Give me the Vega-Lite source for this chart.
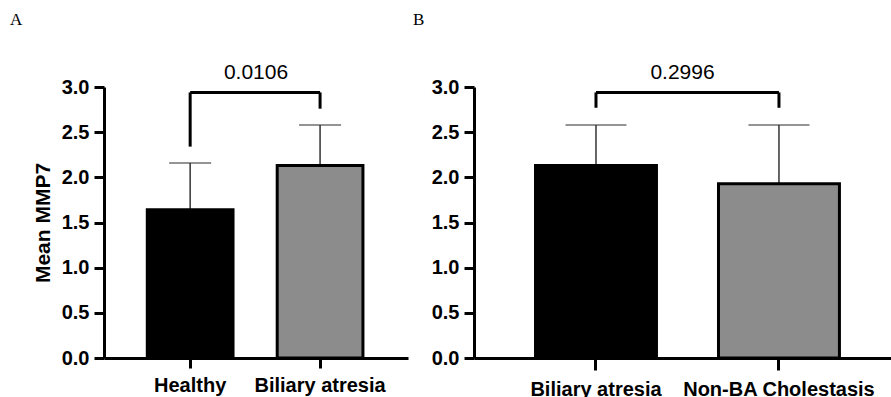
{
  "$schema": "https://vega.github.io/schema/vega-lite/v6.json",
  "padding": {"left": 10, "top": 10, "right": 0, "bottom": 0},
  "resolve": {"scale": {"fill": "independent"}},
  "config": {
    "view": {"stroke": null},
    "font": "Liberation Sans",
    "concat": {"spacing": 5},
    "axis": {
      "grid": false,
      "domainColor": "black",
      "domainWidth": 3,
      "tickColor": "black",
      "tickWidth": 3,
      "labelColor": "black",
      "labelFont": "Liberation Sans",
      "labelFontWeight": "bold",
      "labelLimit": 0,
      "titleColor": "black",
      "titleFont": "Liberation Sans",
      "titleFontWeight": "bold"
    },
    "title": {"font": "Liberation Serif", "fontSize": 17, "fontWeight": "normal", "anchor": "start", "frame": "group", "color": "black", "offset": 33}
  },
  "datasets": {
    "barsA": [
      {"group": "Healthy", "mean": 1.64, "upper": 2.16},
      {"group": "Biliary atresia", "mean": 2.13, "upper": 2.58}
    ],
    "legsA": [
      {"group": "Healthy", "top": 2.94, "leg": 2.34},
      {"group": "Biliary atresia", "top": 2.94, "leg": 2.76}
    ],
    "bracketA": [
      {"from": "Healthy", "to": "Biliary atresia", "top": 2.94, "labelY": 3.155, "p": "0.0106"}
    ],
    "barsB": [
      {"group": "Biliary atresia", "mean": 2.13, "upper": 2.58},
      {"group": "Non-BA Cholestasis", "mean": 1.93, "upper": 2.58}
    ],
    "legsB": [
      {"group": "Biliary atresia", "top": 2.94, "leg": 2.77},
      {"group": "Non-BA Cholestasis", "top": 2.94, "leg": 2.77}
    ],
    "bracketB": [
      {"from": "Biliary atresia", "to": "Non-BA Cholestasis", "top": 2.94, "labelY": 3.155, "p": "0.2996"}
    ]
  },
  "hconcat": [
    {
      "title": {"text": "A", "dx": -94},
      "width": 304,
      "height": 271,
      "encoding": {
        "x": {
          "field": "group",
          "type": "nominal",
          "sort": ["Healthy", "Biliary atresia"],
          "scale": {"domain": ["Healthy", "Biliary atresia"], "paddingInner": 0.34, "paddingOuter": 0.34, "align": 0.49},
          "axis": {"title": null, "labelAngle": 0, "labelFontSize": 20, "tickSize": 10, "labelPadding": 7}
        }
      },
      "layer": [
        {
          "data": {"name": "barsA"},
          "mark": {"type": "rule", "stroke": "#333333", "strokeWidth": 1.5},
          "encoding": {
            "y": {"field": "mean", "type": "quantitative"},
            "y2": {"field": "upper"}
          }
        },
        {
          "data": {"name": "barsA"},
          "mark": {"type": "tick", "color": "#333333", "thickness": 1.5, "size": 42},
          "encoding": {
            "y": {"field": "upper", "type": "quantitative"}
          }
        },
        {
          "data": {"name": "barsA"},
          "mark": {"type": "bar", "stroke": "black", "strokeWidth": 3},
          "encoding": {
            "y": {
              "field": "mean",
              "type": "quantitative",
              "scale": {"domain": [0, 3], "nice": false},
              "axis": {"values": [0, 0.5, 1, 1.5, 2, 2.5, 3], "format": ".1f", "labelFontSize": 20, "tickSize": 10, "labelPadding": 5, "title": "Mean MMP7", "titleFontSize": 21, "titlePadding": 8}
            },
            "fill": {
              "field": "group",
              "type": "nominal",
              "scale": {"domain": ["Healthy", "Biliary atresia"], "range": ["#000000", "#8c8c8c"]},
              "legend": null
            }
          }
        },
        {
          "data": {"name": "legsA"},
          "mark": {"type": "rule", "stroke": "black", "strokeWidth": 3},
          "encoding": {
            "y": {"field": "leg", "type": "quantitative"},
            "y2": {"field": "top"}
          }
        },
        {
          "data": {"name": "bracketA"},
          "mark": {"type": "rule", "stroke": "black", "strokeWidth": 3},
          "encoding": {
            "x": {"field": "from", "type": "nominal"},
            "x2": {"field": "to"},
            "y": {"field": "top", "type": "quantitative"}
          }
        },
        {
          "data": {"name": "bracketA"},
          "mark": {"type": "text", "fontSize": 21, "font": "Liberation Sans", "color": "black", "baseline": "middle"},
          "encoding": {
            "x": null,
            "y": {"field": "labelY", "type": "quantitative"},
            "text": {"field": "p"}
          }
        }
      ]
    },
    {
      "title": {"text": "B", "dx": -61},
      "width": 417,
      "height": 271,
      "encoding": {
        "x": {
          "field": "group",
          "type": "nominal",
          "sort": ["Biliary atresia", "Non-BA Cholestasis"],
          "scale": {"domain": ["Biliary atresia", "Non-BA Cholestasis"], "paddingInner": 0.339, "paddingOuter": 0.309, "align": 0.544},
          "axis": {"title": null, "labelAngle": 0, "labelFontSize": 20, "tickSize": 12, "labelPadding": 9}
        }
      },
      "layer": [
        {
          "data": {"name": "barsB"},
          "mark": {"type": "rule", "stroke": "#333333", "strokeWidth": 1.5},
          "encoding": {
            "y": {"field": "mean", "type": "quantitative"},
            "y2": {"field": "upper"}
          }
        },
        {
          "data": {"name": "barsB"},
          "mark": {"type": "tick", "color": "#333333", "thickness": 1.5, "size": 61},
          "encoding": {
            "y": {"field": "upper", "type": "quantitative"}
          }
        },
        {
          "data": {"name": "barsB"},
          "mark": {"type": "bar", "stroke": "black", "strokeWidth": 3},
          "encoding": {
            "y": {
              "field": "mean",
              "type": "quantitative",
              "scale": {"domain": [0, 3], "nice": false},
              "axis": {"values": [0, 0.5, 1, 1.5, 2, 2.5, 3], "format": ".1f", "labelFontSize": 20, "tickSize": 10, "labelPadding": 5, "title": null}
            },
            "fill": {
              "field": "group",
              "type": "nominal",
              "scale": {"domain": ["Biliary atresia", "Non-BA Cholestasis"], "range": ["#000000", "#8c8c8c"]},
              "legend": null
            }
          }
        },
        {
          "data": {"name": "legsB"},
          "mark": {"type": "rule", "stroke": "black", "strokeWidth": 3},
          "encoding": {
            "y": {"field": "leg", "type": "quantitative"},
            "y2": {"field": "top"}
          }
        },
        {
          "data": {"name": "bracketB"},
          "mark": {"type": "rule", "stroke": "black", "strokeWidth": 3},
          "encoding": {
            "x": {"field": "from", "type": "nominal"},
            "x2": {"field": "to"},
            "y": {"field": "top", "type": "quantitative"}
          }
        },
        {
          "data": {"name": "bracketB"},
          "mark": {"type": "text", "fontSize": 21, "font": "Liberation Sans", "color": "black", "baseline": "middle"},
          "encoding": {
            "x": null,
            "y": {"field": "labelY", "type": "quantitative"},
            "text": {"field": "p"}
          }
        }
      ]
    }
  ]
}
